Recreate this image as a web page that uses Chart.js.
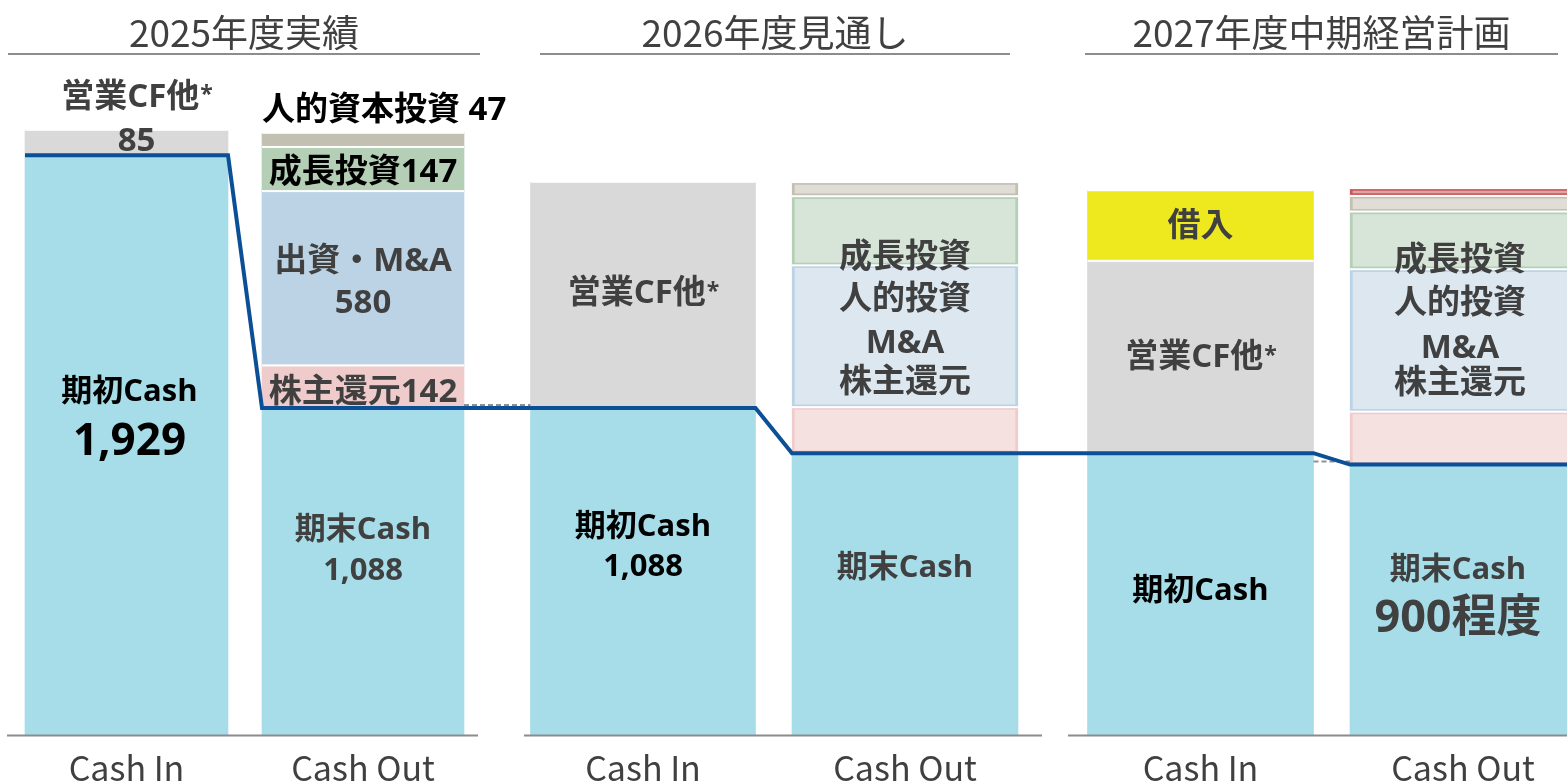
<!DOCTYPE html>
<html>
<head>
<meta charset="utf-8">
<script src="https://cdn.jsdelivr.net/npm/chart.js@4.4.1/dist/chart.umd.min.js"></script>
<style>
html,body{margin:0;padding:0;background:#ffffff;overflow:hidden;}
#wrap{width:1567px;height:784px;position:relative;}
canvas{display:block;}
</style>
</head>
<body>
<div id="wrap"><canvas id="c" width="1567" height="784"></canvas></div>
<script>
// ---------------- data ----------------
const periods = ['2025年度実績', '2026年度見通し', '2027年度中期経営計画'];
const barLabels = ['Cash In', 'Cash Out', 'Cash In', 'Cash Out', 'Cash In', 'Cash Out'];
const cashStart = [1929, 1088, 938];          // 期初Cash
const operatingCF = [85, 753, 640];           // 営業CF他*
const borrowing = [0, 0, 235];                // 借入
const cashEnd = [1088, 938, 900];             // 期末Cash
const shareholderReturn = [142, 153, 176];    // 株主還元
const maInvestment = [580, 472, 474];         // 出資・M&A
const growthInvestment = [147, 230, 192];     // 成長投資
const humanInvestment = [47, 47, 52];         // 人的(資本)投資
const otherOut = [0, 0, 26];                  // その他

// ---------------- layout / style ----------------
const barCenters = [126.5, 363, 643, 905, 1200.5, 1463];
const barWidths = [203, 202, 225, 226, 226, 226];
const X_MAX = 1567;
const Y_MAX = 2446;
const headerSpans = [[8, 480], [540, 1010], [1085, 1558]];
const baseSpans = [[7, 478], [524, 1042], [1068, 1567]];

const FILL = {cash:'#a6dde9', opcf:'#d9d9d9', borrow:'#eee81f', sh:'#efcbcb', ma:'#bbd3e4', growth:'#b4cfb6', human:'#c2c0b1', other:'#e3a3a3'};
const LIGHT = {sh:'#f6e1e1', ma:'#dce7f0', growth:'#d7e5d9', human:'#dfddd5', other:'#e3a3a3'};
const EDGE = {sh:'#efcbcb', ma:'#bbd3e4', growth:'#b4cfb6', human:'#c2c0b1', other:'#c9585a'};
const LINE_COLOR = '#0b4f96';
const TXT = '#404040', BLK = '#000000';

const kindsIn = ['cash', 'opcf', 'borrow'];
const kindsOut = ['cash', 'sh', 'ma', 'growth', 'human', 'other'];
const valuesIn = {cash: cashStart, opcf: operatingCF, borrow: borrowing};
const valuesOut = {cash: cashEnd, sh: shareholderReturn, ma: maInvestment, growth: growthInvestment, human: humanInvestment, other: otherOut};

const datasets = [];
const segIndex = {};
for (let b = 0; b < barLabels.length; b++) {
  const p = Math.floor(b / 2), isOut = b % 2 === 1;
  const kinds = isOut ? kindsOut : kindsIn;
  const vals = isOut ? valuesOut : valuesIn;
  for (const k of kinds) {
    const v = vals[k][p];
    if (!v) continue;
    const planned = isOut && p > 0 && k !== 'cash';
    segIndex[b + ':' + k] = datasets.length;
    datasets.push({
      type: 'bar',
      label: periods[p] + ' ' + barLabels[b] + ' ' + k,
      data: [{x: barCenters[b], y: v}],
      backgroundColor: planned ? LIGHT[k] : FILL[k],
      borderColor: planned ? EDGE[k] : FILL[k],
      borderWidth: planned ? 3 : 0,
      borderSkipped: false,
      barThickness: barWidths[b],
      stack: 'flow',
      xAxisID: 'x', yAxisID: 'y',
      order: 1
    });
  }
}

// cash level line (edges of bars)
const leftEdge = b => barCenters[b] - barWidths[b] / 2;
const rightEdge = b => barCenters[b] + barWidths[b] / 2;
const linePts = [];
for (let p = 0; p < periods.length; p++) {
  const inB = 2 * p, outB = 2 * p + 1;
  if (p === 0) linePts.push({x: leftEdge(inB), y: cashStart[p]});
  linePts.push({x: rightEdge(inB), y: cashStart[p]});
  linePts.push({x: leftEdge(outB), y: cashEnd[p]});
}
linePts.push({x: rightEdge(5), y: cashEnd[2]});
datasets.push({
  type: 'line', label: 'Cash', data: linePts,
  borderColor: LINE_COLOR, borderWidth: 4, pointRadius: 0, tension: 0, fill: false,
  xAxisID: 'x', yAxisID: 'yl', order: 0
});

// segment labels: bar, kind, lines [text, size, color, dy], align, dx
const segmentLabels = [
  {bar:0, kind:'cash', lines:[['期初Cash',31,BLK,-53],['1,929',44,BLK,-3]], dx:3},
  {bar:0, kind:'opcf', lines:[['営業CF他*',33,TXT,-45],['85',33,TXT,-1]], dx:10},
  {bar:1, kind:'cash', lines:[['期末Cash',31,TXT,-41],['1,088',31,TXT,0]]},
  {bar:1, kind:'sh', lines:[['株主還元142',33,TXT,6]]},
  {bar:1, kind:'ma', lines:[['出資・M&A',33,TXT,-17],['580',33,TXT,25]]},
  {bar:1, kind:'growth', lines:[['成長投資147',33,BLK,4]]},
  {bar:1, kind:'human', lines:[['人的資本投資 47',33,BLK,-29]], align:'left'},
  {bar:2, kind:'cash', lines:[['期初Cash',31,BLK,-44],['1,088',31,BLK,-4]]},
  {bar:2, kind:'opcf', lines:[['営業CF他*',33,TXT,-1]]},
  {bar:3, kind:'ma', lines:[['成長投資',33,TXT,-79],['人的投資',33,TXT,-37],['M&A',33,TXT,7],['株主還元',33,TXT,46]]},
  {bar:3, kind:'cash', lines:[['期末Cash',31,TXT,-26]]},
  {bar:4, kind:'cash', lines:[['期初Cash',31,BLK,-3]]},
  {bar:4, kind:'opcf', lines:[['営業CF他*',33,TXT,1]]},
  {bar:4, kind:'borrow', lines:[['借入',33,TXT,1]]},
  {bar:5, kind:'ma', lines:[['成長投資',33,TXT,-80],['人的投資',33,TXT,-37],['M&A',33,TXT,8],['株主還元',33,TXT,43]], dx:-3},
  {bar:5, kind:'cash', lines:[['期末Cash',31,TXT,-30],['900程度',45,TXT,19]], dx:-5}
];

const BOLD = s => `bold ${s}px 'Open Sans','Noto Sans CJK JP',sans-serif`;

function drawRich(ctx, text, size, color, x, y, align) {
  let main = text, star = '';
  if (text.endsWith('*')) { main = text.slice(0, -1); star = '*'; }
  ctx.fillStyle = color;
  ctx.textBaseline = 'middle';
  ctx.textAlign = 'left';
  ctx.font = BOLD(size);
  const w1 = ctx.measureText(main).width;
  const sSize = Math.round(size * 0.7);
  ctx.font = BOLD(sSize);
  const w2 = star ? ctx.measureText(star).width : 0;
  const total = w1 + w2;
  const x0 = align === 'left' ? x : x - total / 2;
  ctx.font = BOLD(size);
  ctx.fillText(main, x0, y);
  if (star) { ctx.font = BOLD(sSize); ctx.fillText(star, x0 + w1 + 1, y - size * 0.05); }
}

const flowPlugin = {
  id: 'flow',
  beforeDatasetDraw(chart, args) {
    if (args.meta.type !== 'line') return;
    const ctx = chart.ctx;
    const yS = chart.scales.y;
    ctx.save();
    // white separators between stacked segments
    ctx.fillStyle = '#ffffff';
    for (const key in segIndex) {
      const el = chart.getDatasetMeta(segIndex[key]).data[0];
      ctx.fillRect(el.x - el.width / 2, el.y - 1, el.width, 2);
    }
    // dashed connectors
    const elOf = (b, k) => chart.getDatasetMeta(segIndex[b + ':' + k]).data[0];
    const dash = (bFrom, bTo, v) => {
      const a = elOf(bFrom, 'cash'), c = elOf(bTo, 'cash');
      const y = yS.getPixelForValue(v) - 3;
      ctx.beginPath();
      ctx.moveTo(a.x + a.width / 2, y);
      ctx.lineTo(c.x - c.width / 2, y);
      ctx.stroke();
    };
    ctx.strokeStyle = '#8f8f8f';
    ctx.lineWidth = 2;
    ctx.setLineDash([5, 3]);
    dash(1, 2, cashEnd[0]);
    dash(4, 5, cashEnd[2]);
    ctx.restore();
  },
  afterDraw(chart) {
    const ctx = chart.ctx;
    const yS = chart.scales.y;
    const base = yS.getPixelForValue(0);
    ctx.save();
    // period titles and header rules
    ctx.font = "400 37px 'Noto Sans CJK JP',sans-serif";
    ctx.fillStyle = TXT;
    ctx.textAlign = 'center';
    ctx.textBaseline = 'middle';
    periods.forEach((t, i) => {
      const [a, b] = headerSpans[i];
      ctx.fillText(t, (a + b) / 2, 33);
      ctx.strokeStyle = '#8c8c8c';
      ctx.lineWidth = 2;
      ctx.beginPath(); ctx.moveTo(a, 54); ctx.lineTo(b, 54); ctx.stroke();
    });
    // base lines
    baseSpans.forEach(([a, b]) => {
      ctx.strokeStyle = '#8c8c8c';
      ctx.lineWidth = 2;
      ctx.beginPath(); ctx.moveTo(a, base + 0.5); ctx.lineTo(b, base + 0.5); ctx.stroke();
    });
    // category labels
    ctx.font = "400 34px 'Noto Sans CJK JP',sans-serif";
    ctx.fillStyle = TXT;
    ctx.textAlign = 'center';
    barLabels.forEach((t, b) => {
      const el = chart.getDatasetMeta(segIndex[b + ':cash']).data[0];
      ctx.fillText(t, el.x, 768);
    });
    // segment labels
    segmentLabels.forEach(lab => {
      const el = chart.getDatasetMeta(segIndex[lab.bar + ':' + lab.kind]).data[0];
      const cy = (el.y + el.base) / 2;
      const x = lab.align === 'left' ? el.x - el.width / 2 : el.x + (lab.dx || 0);
      lab.lines.forEach(([t, s, c, dy]) => drawRich(ctx, t, s, c, x, cy + dy, lab.align));
    });
    ctx.restore();
  }
};

new Chart(document.getElementById('c').getContext('2d'), {
  type: 'bar',
  data: {datasets},
  options: {
    responsive: false,
    animation: false,
    devicePixelRatio: 1,
    layout: {padding: {top: 0, left: 0, right: 0, bottom: 49}},
    plugins: {legend: {display: false}, tooltip: {enabled: false}},
    scales: {
      x: {type: 'linear', min: 0, max: X_MAX, display: false, stacked: true, offset: false},
      y: {type: 'linear', min: 0, max: Y_MAX, display: false, stacked: true},
      yl: {type: 'linear', min: 0, max: Y_MAX, display: false}
    }
  },
  plugins: [flowPlugin]
});
</script>
</body>
</html>
